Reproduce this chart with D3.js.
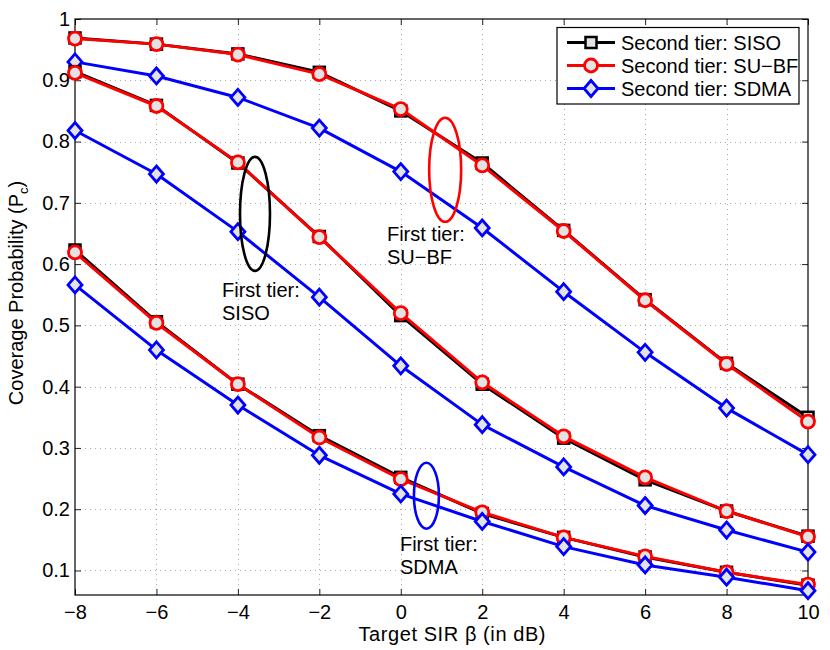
<!DOCTYPE html>
<html>
<head>
<meta charset="utf-8">
<script src="https://cdn.jsdelivr.net/npm/d3@7"></script>
<style>
  body { margin: 0; background: #fff; }
  text { font-family: "Liberation Sans", Arial, sans-serif; }
</style>
</head>
<body>
<div id="chart"></div>
<script>
var w = 830,
	h = 650;

var margin = {top: 19, right: 22, bottom: 55, left: 75};

// target SIR in dB
var sir = [-8, -6, -4, -2, 0, 2, 4, 6, 8, 10];

// tier groups (top, middle, bottom)
var sisoTop = [0.969, 0.959, 0.943, 0.913, 0.850, 0.765, 0.655, 0.542, 0.438, 0.350];
var subfTop = [0.968, 0.959, 0.942, 0.910, 0.853, 0.761, 0.654, 0.541, 0.437, 0.343];
var sdmaTop = [0.930, 0.907, 0.872, 0.822, 0.751, 0.659, 0.555, 0.456, 0.365, 0.289];

var sisoMid = [0.914, 0.859, 0.765, 0.645, 0.516, 0.404, 0.316, 0.248, 0.197, 0.156];
var subfMid = [0.912, 0.858, 0.766, 0.644, 0.520, 0.407, 0.319, 0.252, 0.197, 0.155];
var sdmaMid = [0.818, 0.747, 0.653, 0.546, 0.434, 0.338, 0.269, 0.206, 0.166, 0.130];

var sisoBot = [0.623, 0.506, 0.404, 0.320, 0.252, 0.193, 0.154, 0.122, 0.097, 0.076];
var subfBot = [0.619, 0.504, 0.404, 0.317, 0.249, 0.195, 0.154, 0.123, 0.097, 0.077];
var sdmaBot = [0.566, 0.460, 0.370, 0.288, 0.225, 0.180, 0.139, 0.109, 0.089, 0.067];

var xTicks = [-8, -6, -4, -2, 0, 2, 4, 6, 8, 10];
var yTicks = [0.1, 0.2, 0.3, 0.4, 0.5, 0.6, 0.7, 0.8, 0.9, 1];

var LegendOptions = ["Second tier: SISO", "Second tier: SU\u2212BF", "Second tier: SDMA"];

// ellipse annotations (data coords) and their labels
var noteX = [-3.58, 1.09, 0.63];
var noteY = [0.682, 0.754, 0.222];
var noteRx = [15, 16, 12.5];
var noteRy = [57, 52, 33];
var noteColor = ["#000000", "#ff0000", "#0000ff"];
var noteTextX = [-4.39, -0.34, -0.02];
var noteTextY = [0.546, 0.637, 0.131];
var noteLabel = ["SISO", "SU\u2212BF", "SDMA"];

var series = [
	{kind: "siso", v: sisoTop}, {kind: "subf", v: subfTop}, {kind: "sdma", v: sdmaTop},
	{kind: "siso", v: sisoMid}, {kind: "subf", v: subfMid}, {kind: "sdma", v: sdmaMid},
	{kind: "siso", v: sisoBot}, {kind: "subf", v: subfBot}, {kind: "sdma", v: sdmaBot}
];

var colors = {siso: "#000000", subf: "#ff0000", sdma: "#0000ff"};
var markFill = "#e3e3e3";
var fs = "20px";

var x = d3.scaleLinear().domain([-8, 10]).range([margin.left, w - margin.right]);
var y = d3.scaleLinear().domain([0.06, 1]).range([h - margin.bottom, margin.top]);

var svg = d3.select("#chart").append("svg")
	.attr("width", w)
	.attr("height", h);

// grid
var grid = svg.append("g").attr("stroke", "#aaa").attr("stroke-width", 1).attr("stroke-dasharray", "1,4");
grid.selectAll(".gx").data(xTicks.slice(1, -1)).enter().append("line")
	.attr("x1", d => Math.round(x(d)) + 0.5).attr("x2", d => Math.round(x(d)) + 0.5)
	.attr("y1", y.range()[0]).attr("y2", y.range()[1]);
grid.selectAll(".gy").data(yTicks.slice(0, -1)).enter().append("line")
	.attr("y1", d => Math.round(y(d)) + 0.5).attr("y2", d => Math.round(y(d)) + 0.5)
	.attr("x1", x.range()[0]).attr("x2", x.range()[1]);

// axes with inside ticks on all four sides
var fmtY = d => d === 1 ? "1" : d.toFixed(1);
svg.append("g")
	.attr("transform", "translate(0," + (h - margin.bottom) + ")")
	.call(d3.axisBottom(x).tickValues(xTicks).tickSizeInner(-6).tickSizeOuter(0).tickPadding(10));
svg.append("g")
	.attr("transform", "translate(" + margin.left + ",0)")
	.call(d3.axisLeft(y).tickValues(yTicks).tickFormat(fmtY).tickSizeInner(-6).tickSizeOuter(0).tickPadding(5));
svg.append("g")
	.attr("transform", "translate(0," + margin.top + ")")
	.call(d3.axisTop(x).tickValues(xTicks).tickSizeInner(-6).tickSizeOuter(0).tickFormat(""));
svg.append("g")
	.attr("transform", "translate(" + (w - margin.right) + ",0)")
	.call(d3.axisRight(y).tickValues(yTicks).tickSizeInner(-6).tickSizeOuter(0).tickFormat(""));
svg.selectAll(".domain").remove();
svg.selectAll(".tick line").attr("stroke", "#222");
svg.selectAll(".tick text")
	.style("font-size", fs).attr("fill", "#000")
	.style("font-family", "'Liberation Sans', Arial, sans-serif");

svg.append("rect")
	.attr("x", margin.left).attr("y", margin.top)
	.attr("width", w - margin.left - margin.right)
	.attr("height", h - margin.top - margin.bottom)
	.attr("fill", "none").attr("stroke", "#000").attr("stroke-width", 1.2);

// marker drawing
function drawMarker(g, kind, cx, cy) {
	if (kind === "siso") {
		g.append("rect").attr("x", cx - 5.5).attr("y", cy - 5.5).attr("width", 11).attr("height", 11)
			.attr("fill", markFill).attr("stroke", colors.siso).attr("stroke-width", 2.5);
	} else if (kind === "subf") {
		g.append("circle").attr("cx", cx).attr("cy", cy).attr("r", 6.5)
			.attr("fill", markFill).attr("stroke", colors.subf).attr("stroke-width", 2.8);
	} else {
		g.append("path")
			.attr("d", "M" + cx + "," + (cy - 8) + "L" + (cx + 7) + "," + cy + "L" + cx + "," + (cy + 8) + "L" + (cx - 7) + "," + cy + "Z")
			.attr("fill", markFill).attr("stroke", colors.sdma).attr("stroke-width", 2.8);
	}
}

var line = d3.line().x((d, i) => x(sir[i])).y(d => y(d));

var plot = svg.append("g");
series.forEach(function(s) {
	var g = plot.append("g");
	g.append("path")
		.datum(s.v)
		.attr("d", line)
		.attr("fill", "none")
		.attr("stroke", colors[s.kind])
		.attr("stroke-width", 3)
		.attr("stroke-linejoin", "round");
	s.v.forEach(function(v, i) { drawMarker(g, s.kind, x(sir[i]), y(v)); });
});

// annotations
noteX.forEach(function(nx, i) {
	svg.append("ellipse")
		.attr("cx", x(nx)).attr("cy", y(noteY[i]))
		.attr("rx", noteRx[i]).attr("ry", noteRy[i])
		.attr("fill", "none").attr("stroke", noteColor[i]).attr("stroke-width", 2.6);
	var t = svg.append("text")
		.attr("x", x(noteTextX[i])).attr("y", y(noteTextY[i]))
		.style("font-size", fs).attr("fill", "#000");
	t.append("tspan").text("First tier:");
	t.append("tspan").attr("x", x(noteTextX[i])).attr("dy", 23).text(noteLabel[i]);
});

// legend
var legend = svg.append("g").attr("class", "legend");
legend.append("rect")
	.attr("x", 557).attr("y", 27.5)
	.attr("width", 242).attr("height", 76.5)
	.attr("fill", "#fff").attr("stroke", "#000").attr("stroke-width", 1.2);
var kinds = ["siso", "subf", "sdma"];
LegendOptions.forEach(function(label, i) {
	var ly = 42.5 + i * 23;
	legend.append("line")
		.attr("x1", 567).attr("x2", 615).attr("y1", ly).attr("y2", ly)
		.attr("stroke", colors[kinds[i]]).attr("stroke-width", 3);
	drawMarker(legend, kinds[i], 591, ly);
	legend.append("text")
		.attr("x", 621).attr("y", ly + 7)
		.style("font-size", fs).attr("fill", "#000")
		.text(label);
});

// axis titles
svg.append("text")
	.attr("x", 452)
	.attr("y", 641)
	.attr("text-anchor", "middle")
	.style("font-size", fs)
	.attr("textLength", 187)
	.attr("lengthAdjust", "spacing")
	.text("Target SIR \u03b2 (in dB)");

var yl = svg.append("text")
	.attr("transform", "translate(23,293) rotate(-90)")
	.attr("text-anchor", "middle")
	.style("font-size", fs);
yl.append("tspan").text("Coverage Probability (P");
yl.append("tspan").style("font-size", "13px").attr("dy", 5).text("c");
yl.append("tspan").attr("dy", -5).text(")");
</script>
</body>
</html>
